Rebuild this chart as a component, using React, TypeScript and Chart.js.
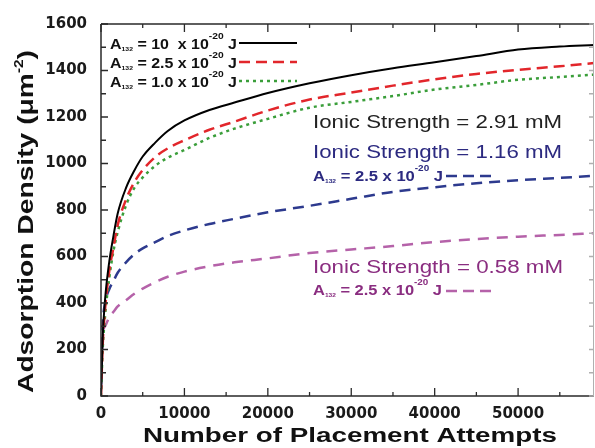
import React, { useEffect, useRef } from 'react';
import { Chart, registerables } from 'chart.js';

Chart.register(...registerables);

// ---- data ----
const attempts = [0, 200, 500, 1000, 1500, 2000, 3000, 4000, 5000, 6500, 8000, 10000, 13000, 16000, 20000, 25000, 30000, 35000, 40000, 45000, 50000, 55000, 59100];
const densityA10 = [0, 250, 420, 580, 690, 785, 895, 970, 1030, 1090, 1140, 1185, 1230, 1262, 1303, 1345, 1380, 1410, 1435, 1462, 1490, 1503, 1510];
const densityA25 = [0, 220, 380, 540, 640, 735, 845, 920, 972, 1028, 1065, 1100, 1145, 1180, 1228, 1275, 1305, 1335, 1362, 1385, 1403, 1418, 1432];
const densityA10b = [0, 200, 350, 510, 625, 705, 820, 895, 940, 990, 1025, 1058, 1110, 1150, 1192, 1240, 1265, 1290, 1318, 1338, 1360, 1372, 1382];
const densityI116 = [50, 300, 400, 460, 495, 530, 575, 610, 635, 662, 688, 712, 740, 762, 790, 818, 848, 878, 898, 915, 928, 938, 947];
const densityI058 = [40, 260, 300, 340, 362, 385, 412, 440, 462, 490, 513, 535, 558, 575, 592, 615, 630, 645, 662, 675, 685, 693, 700];

const xTickValues = [0, 10000, 20000, 30000, 40000, 50000];
const yTickValues = [0, 200, 400, 600, 800, 1000, 1200, 1400, 1600];

const legendRows = [
  { mid: ' = 10  x 10', color: '#000000', dash: [] as number[], width: 2 },
  { mid: ' = 2.5 x 10', color: '#e2262b', dash: [11, 6], width: 2.5 },
  { mid: ' = 1.0 x 10', color: '#3a9e3a', dash: [3, 4], width: 2.5 },
];
const ionicLabels = ['Ionic Strength = 2.91 mM', 'Ionic Strength = 1.16 mM', 'Ionic Strength = 0.58 mM'];
const xTitle = 'Number of Placement Attempts';
const yTitle = 'Adsorption Density (μm';

const BLUE = '#2d3a8e';
const PINK = '#b562a9';
const NAVY_TEXT = '#2c2a80';
const PURPLE_TEXT = '#8a2d80';
const FONT = '"Liberation Sans", Arial, sans-serif';

type Part = { t: string; size: number; dy?: number; bold?: boolean };

function drawRich(ctx: CanvasRenderingContext2D, parts: Part[], x: number, y: number, target: number, color: string) {
  let total = 0;
  const widths: number[] = [];
  for (const p of parts) {
    ctx.font = `${p.bold === false ? '' : 'bold '}${p.size}px ${FONT}`;
    const w = ctx.measureText(p.t).width;
    widths.push(w);
    total += w;
  }
  const s = target / total;
  ctx.save();
  ctx.translate(x, y);
  ctx.scale(s, 1);
  ctx.fillStyle = color;
  ctx.textBaseline = 'alphabetic';
  ctx.textAlign = 'left';
  let cx = 0;
  parts.forEach((p, i) => {
    ctx.font = `${p.bold === false ? '' : 'bold '}${p.size}px ${FONT}`;
    ctx.fillText(p.t, cx, p.dy || 0);
    cx += widths[i];
  });
  ctx.restore();
  return x + target;
}

function sampleLine(ctx: CanvasRenderingContext2D, x1: number, x2: number, y: number, color: string, dash: number[], width: number) {
  ctx.save();
  ctx.strokeStyle = color;
  ctx.lineWidth = width;
  ctx.setLineDash(dash);
  ctx.beginPath();
  ctx.moveTo(x1, y);
  ctx.lineTo(x2, y);
  ctx.stroke();
  ctx.restore();
}

const decorPlugin = {
  id: 'decor',
  afterDatasetsDraw(chart: any) {
    const ctx: CanvasRenderingContext2D = chart.ctx;
    const { left, right, top, bottom } = chart.chartArea;
    const xs = chart.scales.x;
    const ys = chart.scales.y;

    // frame
    ctx.save();
    ctx.strokeStyle = '#2a2a2a';
    ctx.lineWidth = 1.5;
    ctx.beginPath();
    ctx.moveTo(left, top);
    ctx.lineTo(left, bottom);
    ctx.lineTo(right, bottom);
    ctx.moveTo(left, top);
    ctx.lineTo(right, top);
    ctx.stroke();
    ctx.strokeStyle = '#b0b0b0';
    ctx.lineWidth = 1;
    ctx.beginPath();
    ctx.moveTo(right - 0.5, top);
    ctx.lineTo(right - 0.5, bottom);
    ctx.stroke();

    // inward ticks
    ctx.strokeStyle = '#2a2a2a';
    ctx.lineWidth = 1.3;
    ctx.beginPath();
    for (let v = 0; v <= xs.max; v += 5000) {
      const px = xs.getPixelForValue(v);
      const len = v % 10000 === 0 ? 8 : 4;
      ctx.moveTo(px, bottom);
      ctx.lineTo(px, bottom - len);
      ctx.moveTo(px, top);
      ctx.lineTo(px, top + len);
    }
    for (let v = 0; v <= ys.max; v += 100) {
      const py = ys.getPixelForValue(v);
      const len = v % 200 === 0 ? 7 : 5;
      ctx.moveTo(left, py);
      ctx.lineTo(left + len, py);
    }
    ctx.stroke();
    ctx.strokeStyle = '#b0b0b0';
    ctx.beginPath();
    for (let v = 0; v <= ys.max; v += 100) {
      const py = ys.getPixelForValue(v);
      ctx.moveTo(right, py);
      ctx.lineTo(right - 5, py);
    }
    ctx.stroke();
    ctx.restore();

    // legend
    const rowBase = [49, 68, 87];
    legendRows.forEach((r, i) => {
      const end = drawRich(
        ctx,
        [
          { t: 'A', size: 14 },
          { t: '132', size: 6, dy: 2 },
          { t: r.mid, size: 14 },
          { t: '-20', size: 9, dy: -10 },
          { t: ' J', size: 14 },
        ],
        110,
        rowBase[i],
        127,
        '#111111'
      );
      sampleLine(ctx, end + 2, 297, rowBase[i] - 6, r.color, r.dash, r.width);
    });

    // ionic strength annotations
    drawRich(ctx, [{ t: ionicLabels[0], size: 18, bold: false }], 313, 128, 249, '#222222');
    drawRich(ctx, [{ t: ionicLabels[1], size: 18, bold: false }], 313, 158, 249, NAVY_TEXT);
    const aParts = (): Part[] => [
      { t: 'A', size: 15 },
      { t: '132', size: 6, dy: 2 },
      { t: ' = 2.5 x 10', size: 15 },
      { t: '-20', size: 9, dy: -10 },
      { t: ' J', size: 15 },
    ];
    drawRich(ctx, aParts(), 313, 181, 130, NAVY_TEXT);
    sampleLine(ctx, 446, 494, 176, BLUE, [11, 6], 2.5);
    drawRich(ctx, [{ t: ionicLabels[2], size: 18, bold: false }], 313, 273, 250, PURPLE_TEXT);
    drawRich(ctx, aParts(), 313, 295, 129, PURPLE_TEXT);
    sampleLine(ctx, 446, 494, 291, PINK, [11, 6], 2.5);

    // axis titles
    drawRich(ctx, [{ t: xTitle, size: 20 }], 143, 442, 414, '#111111');
    ctx.save();
    ctx.translate(33, 393);
    ctx.rotate(-Math.PI / 2);
    drawRich(
      ctx,
      [
        { t: yTitle, size: 22 },
        { t: '-2', size: 12, dy: -10 },
        { t: ')', size: 22 },
      ],
      0,
      0,
      343,
      '#111111'
    );
    ctx.restore();
  },
};

export default function App() {
  const ref = useRef<HTMLCanvasElement | null>(null);

  useEffect(() => {
    if (!ref.current) return;
    const mk = (ys: number[]) => attempts.map((x, i) => ({ x, y: ys[i] }));
    const tickFont = { family: '"DejaVu Sans", sans-serif', size: 15, weight: 'bold' };
    const chart = new Chart(ref.current, {
      type: 'line',
      data: {
        datasets: [
          { label: 'A10', data: mk(densityA10), borderColor: '#000000', borderWidth: 2, pointRadius: 0, cubicInterpolationMode: 'monotone' },
          { label: 'A2.5', data: mk(densityA25), borderColor: '#e2262b', borderWidth: 2.5, borderDash: [11, 6], pointRadius: 0, cubicInterpolationMode: 'monotone' },
          { label: 'A1.0', data: mk(densityA10b), borderColor: '#3a9e3a', borderWidth: 2.5, borderDash: [3, 4], pointRadius: 0, cubicInterpolationMode: 'monotone' },
          { label: 'I1.16', data: mk(densityI116), borderColor: BLUE, borderWidth: 2.5, borderDash: [11, 7], pointRadius: 0, cubicInterpolationMode: 'monotone' },
          { label: 'I0.58', data: mk(densityI058), borderColor: PINK, borderWidth: 2.5, borderDash: [11, 8], pointRadius: 0, cubicInterpolationMode: 'monotone' },
        ],
      } as any,
      options: {
        animation: false,
        responsive: false,
        layout: { padding: { top: 24, right: 1, left: 0, bottom: 0 } },
        plugins: { legend: { display: false }, tooltip: { enabled: false } },
        scales: {
          x: {
            type: 'linear',
            min: 0,
            max: 59100,
            grid: { display: false, drawTicks: false },
            border: { display: false },
            afterBuildTicks: (s: any) => {
              s.ticks = xTickValues.map((value) => ({ value }));
            },
            ticks: {
              maxRotation: 0,
              autoSkip: false,
              padding: 9,
              color: '#1a1a1a',
              font: tickFont,
              callback: (v: any) => String(v),
            },
            afterFit: (s: any) => {
              s.height = 52;
            },
          },
          y: {
            type: 'linear',
            min: 0,
            max: 1600,
            grid: { display: false, drawTicks: false },
            border: { display: false },
            afterBuildTicks: (s: any) => {
              s.ticks = yTickValues.map((value) => ({ value }));
            },
            ticks: {
              padding: 14,
              autoSkip: false,
              color: '#1a1a1a',
              font: tickFont,
              callback: (v: any) => String(v),
            },
            afterFit: (s: any) => {
              s.width = 101;
            },
          },
        },
      } as any,
      plugins: [decorPlugin],
    });
    return () => chart.destroy();
  }, []);

  return (
    <div style={{ position: 'fixed', left: 0, top: 0, width: 595, height: 448, background: '#ffffff' }}>
      <canvas ref={ref} width={595} height={448} style={{ width: 595, height: 448, display: 'block' }} />
    </div>
  );
}
